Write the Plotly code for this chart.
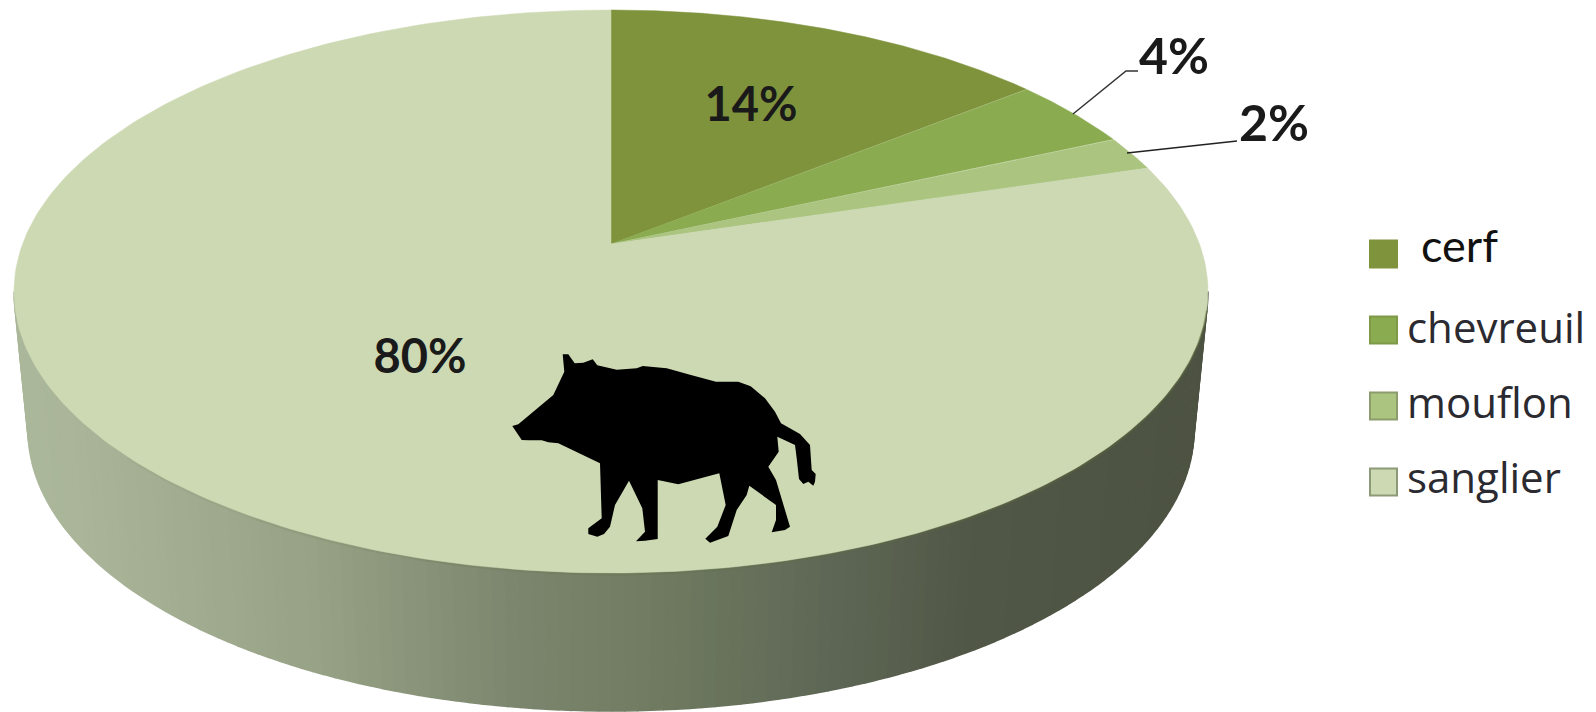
import numpy as np
import plotly.graph_objects as go

categories = ["cerf", "chevreuil", "mouflon", "sanglier"]
values = [14, 4, 2, 80]
colors = ["#7e933c", "#8bab50", "#abc581", "#cdd9b3"]

W, H = 1596, 712
CX, CY, RX, RY = 611, 291.5, 597, 281.5
APEX = (611, 244)
LCY, LRX, LRY = 430, 583, 281
K = 0.86


def warp(frac):
    """Share of the pie (0-1 clockwise from top) to ellipse angle, with perspective."""
    theta = np.asarray(frac) * 2 * np.pi
    return 2 * np.arctan2(K * np.sin(theta / 2), np.cos(theta / 2))


def rim(t):
    return CX + RX * np.sin(t), CY - RY * np.cos(t)


fig = go.Figure()

# side wall, shaded left to right
wall_x = [0, 0.05, 0.25, 0.42, 0.55, 0.68, 0.8, 1]
wall_c = [(172, 184, 155), (170, 181, 153), (151, 162, 134), (124, 134, 110),
          (111, 122, 96), (95, 104, 86), (82, 88, 71), (77, 83, 66)]
edges = np.linspace(np.pi / 2, 3 * np.pi / 2, 141)[::-1]
for a, b in zip(edges[:-1], edges[1:]):
    t = np.linspace(a, b, 4)
    xs = np.r_[CX + RX * np.sin(t), (CX + LRX * np.sin(t))[::-1]]
    ys = np.r_[CY - RY * np.cos(t), (LCY - LRY * np.cos(t))[::-1]]
    f = (CX + RX * np.sin((a + b) / 2) - (CX - RX)) / (2 * RX)
    c = [int(np.interp(f, wall_x, [p[i] for p in wall_c])) for i in range(3)]
    col = f"rgb({c[0]},{c[1]},{c[2]})"
    fig.add_trace(go.Scatter(x=xs, y=ys, mode="lines", fill="toself", fillcolor=col,
                             line=dict(color=col, width=1.5), hoverinfo="skip"))

# top face slices
cum = np.cumsum([0] + values) / sum(values)
for name, col, s, e in zip(categories, colors, cum[:-1], cum[1:]):
    t0 = warp(s) % (2 * np.pi)
    t1 = warp(e) % (2 * np.pi) if e < 1 else 2 * np.pi
    t = np.linspace(t0, t1, 300)
    rx, ry = rim(t)
    fig.add_trace(go.Scatter(x=np.r_[APEX[0], rx, APEX[0]], y=np.r_[APEX[1], ry, APEX[1]],
                             mode="lines", fill="toself", fillcolor=col,
                             line=dict(color=col, width=0.5), name=name, hoverinfo="name"))

# dark rim under the front edge of the face, fading towards the left
rim_steps = np.linspace(np.pi * 0.52, np.pi * 1.3, 9)
rim_alpha = np.linspace(0.45, 0.05, 8)
for a, b, op in zip(rim_steps[:-1], rim_steps[1:], rim_alpha):
    rx, ry = rim(np.linspace(a, b, 30))
    fig.add_trace(go.Scatter(x=rx, y=ry + 1.5, mode="lines", line=dict(color="#5f6c3c", width=2),
                             opacity=float(op), hoverinfo="skip"))

# leader lines
fig.add_trace(go.Scatter(x=[1073, 1126, 1138], y=[114, 71, 71], mode="lines",
                         line=dict(color="#333333", width=1.5), hoverinfo="skip"))
fig.add_trace(go.Scatter(x=[1127, 1237], y=[153, 141], mode="lines",
                         line=dict(color="#222222", width=1.5), hoverinfo="skip"))

# value labels
LABEL_FONT = "Lato, Carlito, sans-serif"
label_x = [751, 1174, 1274, 420]
label_y = [109, 61, 128, 361]
label_size = [47, 50, 50, 47]
fig.add_trace(go.Scatter(x=label_x, y=label_y, mode="text",
                         text=[f"<b>{v}%</b>" for v in values],
                         textposition="middle center",
                         textfont=dict(family=LABEL_FONT, size=label_size, color="#1a1a1a"),
                         hoverinfo="skip"))

# legend
leg_y = [254, 330, 406, 482]
leg_edge = ["#7e933c", "#7e9a48", "#8c9c6c", "#8c9a78"]
fig.add_trace(go.Scatter(x=[1383.5] * 4, y=leg_y, mode="markers",
                         marker=dict(symbol="square", size=27, color=colors,
                                     line=dict(color=leg_edge, width=2)),
                         hoverinfo="skip"))
fig.add_trace(go.Scatter(x=[1421], y=[leg_y[0] - 3], mode="text", text=[categories[0]],
                         textposition="middle right",
                         textfont=dict(family=LABEL_FONT, size=45, color="#111111"), hoverinfo="skip"))
fig.add_trace(go.Scatter(x=[1407] * 3, y=[leg_y[1] + 2, leg_y[2] + 1, leg_y[3]], mode="text",
                         text=categories[1:], textposition="middle right",
                         textfont=dict(family="'Open Sans', sans-serif", size=42, color="#2a2a30"),
                         hoverinfo="skip"))

# boar silhouette (decoration)
boar = [(248,73),(265,73),(284,100),(310,98),(338,88),(352,106),(410,119),(470,115),(488,108),
        (560,115),(630,134),(708,155),(775,155),(812,169),(855,205),(885,245),(903,280),(960,312),
        (990,345),(995,420),(1007,432),(1005,455),(1000,467),(985,455),(970,462),(957,447),(950,385),
        (945,345),(892,320),(896,365),(865,410),(888,450),(930,590),(915,600),(875,607),(888,570),
        (888,525),(808,467),(800,495),(770,540),(745,618),(690,638),(676,626),(712,590),(737,525),
        (718,430),(595,463),(533,450),(533,627),(495,632),(468,634),(495,605),(487,535),(447,452),
        (405,525),(390,590),(372,612),(352,620),(325,612),(325,595),(365,565),(360,400),(235,340),
        (205,337),(185,331),(145,331),(125,330),(97,288),(115,283),(220,195),(253,125)]
path = "M" + " L".join(f"{480 + x / 3:.1f},{330 + y / 3:.1f}" for x, y in boar) + " Z"

fig.update_layout(
    width=W, height=H, margin=dict(l=0, r=0, t=0, b=0),
    paper_bgcolor="white", plot_bgcolor="white", showlegend=False,
    xaxis=dict(range=[0, W], visible=False, fixedrange=True),
    yaxis=dict(range=[H, 0], visible=False, fixedrange=True),
    shapes=[dict(type="path", path=path, fillcolor="black", line=dict(width=0), layer="above")],
)
fig.write_html("out.html", config=dict(displayModeBar=False),
               post_script="document.body.style.margin='0';document.body.style.overflow='hidden';")
